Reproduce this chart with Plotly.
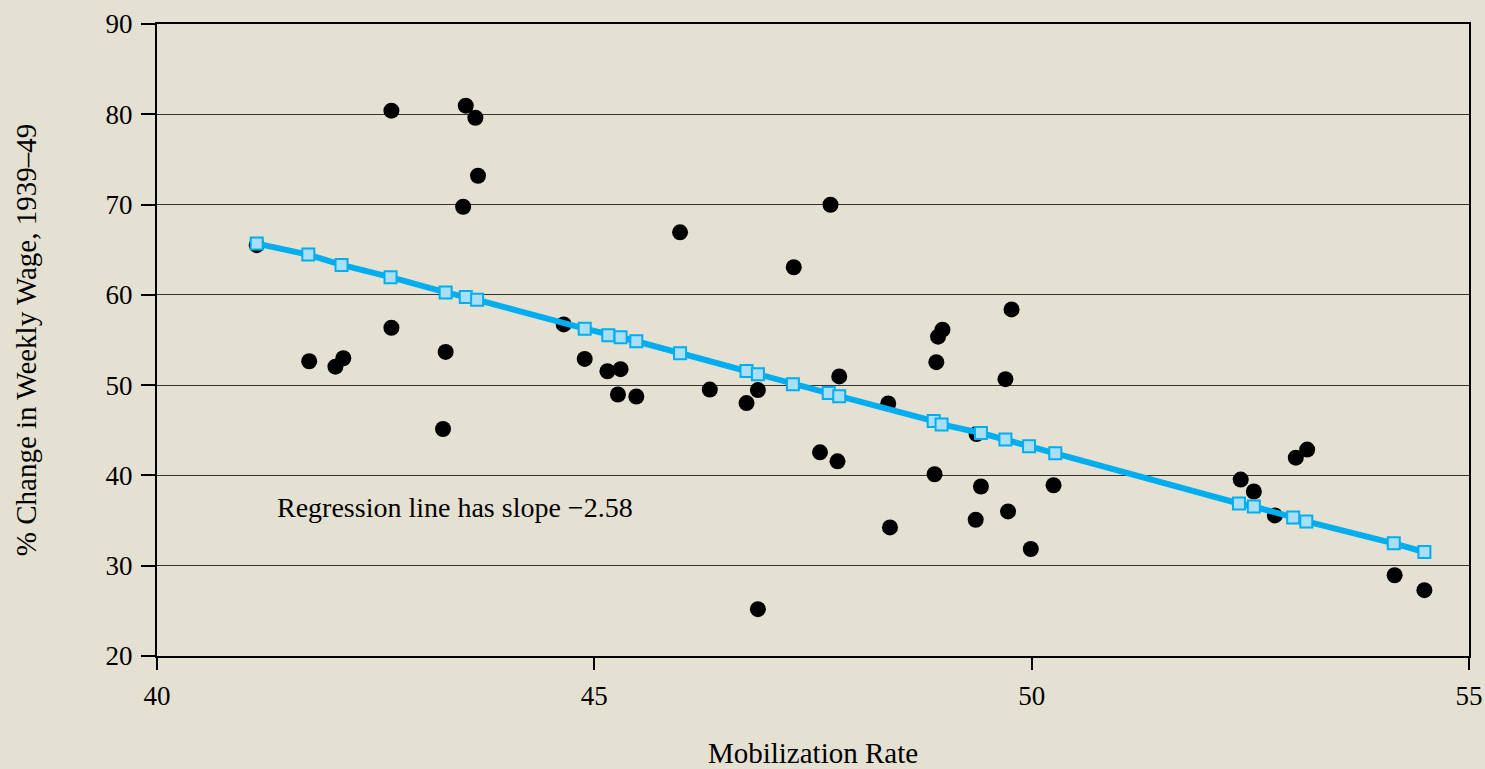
import plotly.graph_objects as go

# Observed data (mobilization rate vs % change in weekly wage)
mob_rate = [41.14, 41.74, 42.04, 42.13, 42.68, 42.68, 43.53, 43.64, 43.67, 43.50,
            43.30, 43.27, 44.65, 44.89, 45.15, 45.30, 45.27, 45.48, 45.98, 46.32,
            46.74, 46.87, 46.87, 47.28, 47.70, 47.58, 47.78, 47.80, 48.36, 48.38,
            48.89, 48.91, 48.93, 48.98, 49.37, 49.42, 49.36, 49.70, 49.73, 49.77,
            49.99, 50.25, 52.39, 52.54, 52.78, 53.02, 53.15, 54.15, 54.49]
wage_change = [65.5, 52.65, 52.05, 52.98, 56.36, 80.40, 80.95, 79.62, 73.19, 69.76,
               53.68, 45.14, 56.73, 52.90, 51.54, 51.77, 48.96, 48.74, 66.93, 49.51,
               48.01, 49.45, 25.19, 63.06, 69.98, 42.56, 41.56, 50.97, 47.97, 34.24,
               40.13, 52.54, 55.37, 56.14, 44.59, 38.77, 35.09, 50.66, 36.01, 58.39,
               31.85, 38.91, 39.54, 38.22, 35.57, 41.97, 42.86, 28.94, 27.29]

# Regression line markers
fit_x = [41.14, 41.73, 42.11, 42.67, 43.30, 43.53, 43.66, 44.89, 45.16, 45.30,
         45.48, 45.98, 46.74, 46.87, 47.27, 47.68, 47.80, 48.88, 48.97, 49.42,
         49.70, 49.97, 50.27, 52.37, 52.54, 52.99, 53.14, 54.14, 54.49]
fit_y = [65.68, 64.46, 63.31, 61.96, 60.27, 59.75, 59.45, 56.25, 55.52, 55.30,
         54.86, 53.53, 51.58, 51.22, 50.09, 49.12, 48.78, 46.02, 45.65, 44.70,
         43.99, 43.22, 42.45, 36.89, 36.56, 35.35, 34.91, 32.48, 31.52]

x_ticks = [40, 45, 50, 55]
y_ticks = [20, 30, 40, 50, 60, 70, 80, 90]
note_text = "Regression line has slope \u22122.58"
note_x, note_y = 41.35, 36.5
x_title = "Mobilization Rate"
y_title = "% Change in Weekly Wage, 1939\u201349"

BG = "#E5E1D2"
FONT = "Liberation Serif, Times New Roman, serif"

fig = go.Figure()
fig.add_trace(go.Scatter(
    x=mob_rate, y=wage_change, mode="markers",
    marker=dict(color="black", size=16, line=dict(width=0)),
    showlegend=False, hoverinfo="x+y"))
fig.add_trace(go.Scatter(
    x=fit_x, y=fit_y, mode="lines+markers",
    line=dict(color="#00AEEF", width=6),
    marker=dict(symbol="square", size=12, color="#A9DFF6",
                line=dict(color="#00AEEF", width=2)),
    showlegend=False, hoverinfo="x+y"))

fig.add_annotation(x=note_x, y=note_y, xref="x", yref="y", text=note_text,
                   showarrow=False, xanchor="left", yanchor="middle",
                   font=dict(family=FONT, size=28, color="black"))

fig.update_layout(
    width=1485, height=769,
    margin=dict(l=157, r=16, t=24, b=113),
    paper_bgcolor=BG, plot_bgcolor=BG,
    font=dict(family=FONT, size=27, color="black"),
    xaxis=dict(range=[40, 55], tickvals=x_ticks, ticktext=[str(v) for v in x_ticks],
               showgrid=False, zeroline=False, automargin=False,
               showline=True, linecolor="black", linewidth=2, mirror=True,
               ticks="outside", ticklen=12, tickwidth=1.5, tickcolor="black",
               ticklabelstandoff=3,
               tickfont=dict(family=FONT, size=27),
               title=dict(text=x_title, font=dict(family=FONT, size=29), standoff=36)),
    yaxis=dict(range=[20, 90], tickvals=y_ticks, ticktext=[str(v) for v in y_ticks],
               showgrid=True, gridcolor="#333333", gridwidth=1, zeroline=False,
               automargin=False,
               showline=True, linecolor="black", linewidth=2, mirror=True,
               ticks="outside", ticklen=14, tickwidth=1.5, tickcolor="black",
               ticklabelstandoff=3,
               tickfont=dict(family=FONT, size=27),
               title=dict(text=y_title, font=dict(family=FONT, size=29), standoff=60)),
)

fig.write_html("out.html",
               config={"displayModeBar": False},
               post_script="document.body.style.margin='0';document.body.style.overflow='hidden';")
